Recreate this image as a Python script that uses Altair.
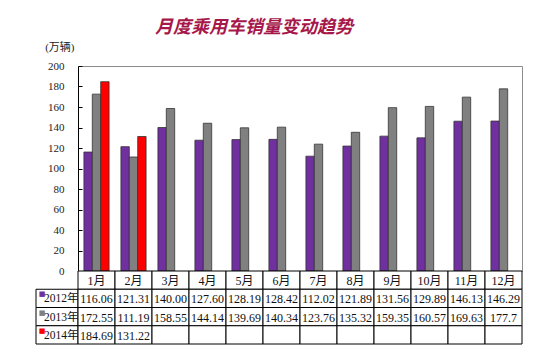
import altair as alt
import pandas as pd

months = ["1月", "2月", "3月", "4月", "5月", "6月", "7月", "8月", "9月", "10月", "11月", "12月"]
years = ["2012年", "2013年", "2014年"]
sales_2012 = ["116.06", "121.31", "140.00", "127.60", "128.19", "128.42",
              "112.02", "121.89", "131.56", "129.89", "146.13", "146.29"]
sales_2013 = ["172.55", "111.19", "158.55", "144.14", "139.69", "140.34",
              "123.76", "135.32", "159.35", "160.57", "169.63", "177.7"]
sales_2014 = ["184.69", "131.22"]
colors = ["#7030A0", "#808080", "#FF0000"]
y_ticks = [0, 20, 40, 60, 80, 100, 120, 140, 160, 180, 200]
header_key = "月份"

series = dict(zip(years, [sales_2012, sales_2013, sales_2014]))

bars_df = pd.DataFrame(
    [{"month": m, "year": y, "value": float(s)}
     for y, lst in series.items() for m, s in zip(months, lst)]
)

rows = [header_key] + years
table_records = [{"col": m, "row": header_key, "text": m} for m in months]
for y, lst in series.items():
    for i, m in enumerate(months):
        table_records.append({"col": m, "row": y, "text": lst[i] if i < len(lst) else ""})
table_df = pd.DataFrame(table_records)
label_df = pd.DataFrame({"row": years, "c": ["label"] * len(years)})

FONT = "Liberation Serif, Noto Sans CJK SC"
PLOT_W = 444
PLOT_H = 205
TABLE_H = 73
LABEL_W = 42

bars = alt.Chart(bars_df).mark_bar(stroke="#333333", strokeWidth=0.8).encode(
    x=alt.X("month:N", sort=months,
            scale=alt.Scale(domain=months, paddingInner=0.32, paddingOuter=0.16),
            axis=None),
    xOffset=alt.XOffset("year:N", scale=alt.Scale(domain=years, paddingInner=0, paddingOuter=0)),
    y=alt.Y("value:Q", scale=alt.Scale(domain=[0, 200], nice=False),
            axis=alt.Axis(values=y_ticks, title="(万辆)", titleAngle=0, titleAlign="right",
                          titleBaseline="middle", titleX=-4, titleY=-19, titleFont=FONT,
                          titleFontSize=11, titleFontWeight="normal", titleColor="#222222",
                          labelFont=FONT, labelFontSize=11, labelColor="#222222",
                          labelPadding=14, ticks=False, tickSize=0, domainColor="#000000",
                          grid=True, gridColor="#000000", gridDash=[4, 2000], gridOpacity=1)),
    color=alt.Color("year:N", scale=alt.Scale(domain=years, range=colors), legend=None),
).properties(width=PLOT_W, height=PLOT_H, view=alt.ViewBackground(stroke="#8c8c8c"))

spacer = alt.Chart(pd.DataFrame({"a": [0]})).mark_text().encode(
    text=alt.value("")
).properties(width=LABEL_W, height=PLOT_H, view=alt.ViewBackground(stroke="transparent"))

ytab = alt.Y("row:N", scale=alt.Scale(domain=rows, paddingInner=0, paddingOuter=0), axis=None)
xtab = alt.X("col:N", scale=alt.Scale(domain=months, paddingInner=0, paddingOuter=0), axis=None)

cells = alt.Chart(table_df).mark_rect(fill="white", stroke="#000000", strokeWidth=1).encode(
    x=xtab, y=ytab)
texts = alt.Chart(table_df).mark_text(font=FONT, fontSize=12, color="#111111", dy=1).encode(
    x=xtab, y=ytab, text="text:N")
table = alt.layer(cells, texts).properties(
    width=PLOT_W, height=TABLE_H, view=alt.ViewBackground(stroke="transparent"))

lx = alt.X("c:N", scale=alt.Scale(paddingInner=0, paddingOuter=0), axis=None)
lcells = alt.Chart(label_df).mark_rect(fill="white", stroke="#000000", strokeWidth=1).encode(
    x=lx, y=ytab)
lswatch = alt.Chart(label_df).mark_text(text="■", font="DejaVu Sans", fontSize=7, dx=-15, dy=-4).encode(
    x=lx, y=ytab,
    color=alt.Color("row:N", scale=alt.Scale(domain=years, range=colors), legend=None))
ltext = alt.Chart(label_df).mark_text(align="left", dx=-13, dy=1, font=FONT, fontSize=11.5,
                                      color="#111111").encode(x=lx, y=ytab, text="row:N")
labels = alt.layer(lcells, lswatch, ltext).properties(
    width=LABEL_W, height=TABLE_H, view=alt.ViewBackground(stroke="transparent"))

chart = alt.concat(spacer, bars, labels, table, columns=2, spacing=0,
                   bounds="flush", align="each").resolve_scale(
    x="independent", y="independent", color="independent"
).properties(
    title=alt.TitleParams("月度乘用车销量变动趋势", font="Noto Sans CJK SC", fontSize=18,
                          fontWeight="bold", fontStyle="italic", color="#A6174A",
                          anchor="middle", dx=-25, offset=4),
    padding={"left": 27, "top": 10, "right": 5, "bottom": 5},
).configure_view(stroke="transparent")

chart.save("out.html", embed_options={"renderer": "svg", "actions": False})
